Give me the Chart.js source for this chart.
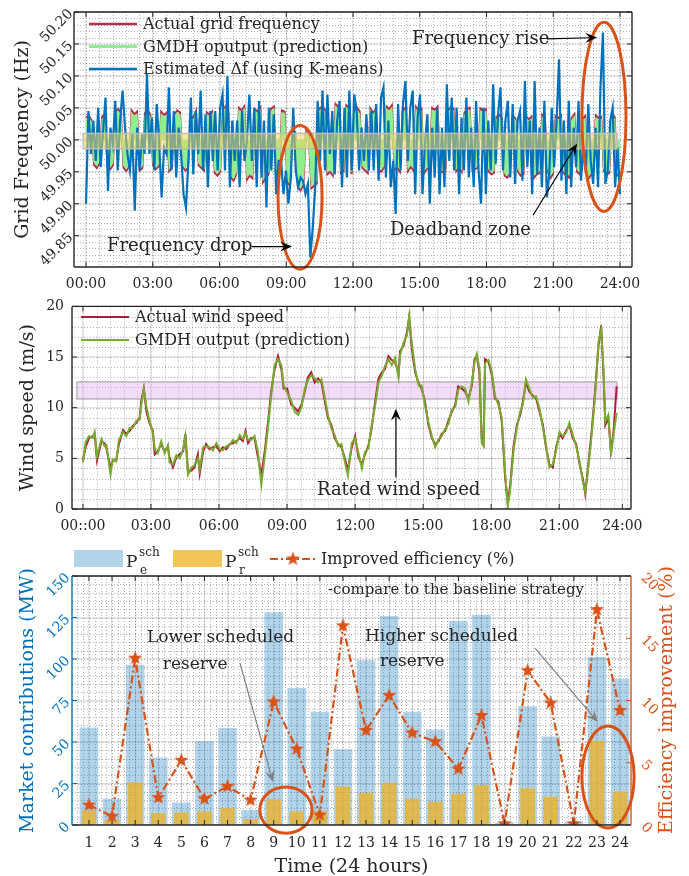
<!DOCTYPE html>
<html>
<head>
<meta charset="utf-8">
<script src="https://cdn.jsdelivr.net/npm/chart.js@4.4.0/dist/chart.umd.min.js"></script>
<style>
  body { margin: 0; background: #fff; width: 689px; height: 876px; position: relative; overflow: hidden; }
  canvas { position: absolute; left: 0; }
</style>
</head>
<body>
<canvas id="freq" width="689" height="290" style="top:0"></canvas>
<canvas id="wind" width="689" height="250" style="top:290px"></canvas>
<canvas id="market" width="689" height="336" style="top:540px"></canvas>
<script>
// ---------- panel 1: grid frequency (deviation from 50 Hz, in mHz), evenly sampled over 24 h
const nominalHz = 50;
const freqHourTicks = [0, 3, 6, 9, 12, 15, 18, 21, 24];
const freqTickValues = [49.85, 49.90, 49.95, 50.00, 50.05, 50.10, 50.15, 50.20];
const freqActual = [
  34,38,31,-39,-44,-37,36,40,
  -42,-46,-40,44,48,42,-44,-49,-42,46,40,44,-48,-44,42,46,39,
  -40,-46,-42,44,39,42,-49,-44,40,46,43,-42,-48,-44,38,34,45,-40,-44,-48,43,39,44,
  -52,-56,-50,48,52,46,-59,-64,-54,50,46,52,-62,-56,-60,48,44,50,-66,-59,-54,49,52,-64,-60,46,44,
  -66,-72,14,12,-74,-79,-70,16,9,-76,-72,-68,
  49,52,48,-54,-50,-56,56,52,-52,-49,54,50,-54,
  46,50,44,-44,-48,-52,49,42,48,-46,-50,-44,52,48,54,-47,-44,-50,46,50,
  -49,-42,-48,51,44,48,-52,-46,-44,50,47,52,-48,-51,-45,46,52,49,-49,-44,
  -50,42,48,50,-48,-46,-44,49,45,48,
  -49,-54,-52,36,39,34,-56,-59,-52,38,34,-50,-56,-54,37,32,36,-59,-54,-52,
  39,34,-48,-60,-54,37,34,38,-52,-56,-59,34,40,-50,-54,33,37,-62,-56,-50,
  38,34,36,-49,-54,-52,39,36,-56,-52
];
const freqGmdh = [
  30,34,28,-35,-40,-33,32,36,
  -38,-42,-36,40,44,38,-40,-45,-38,42,36,40,-44,-40,38,42,35,
  -36,-42,-38,40,35,38,-45,-40,36,42,39,-38,-44,-40,34,30,41,-36,-40,-44,39,35,40,
  -48,-52,-46,44,48,42,-55,-60,-50,46,42,48,-58,-52,-56,44,40,46,-62,-55,-50,45,48,-60,-56,42,40,
  -62,-68,10,8,-70,-75,-66,12,5,-72,-68,-64,
  45,48,44,-50,-46,-52,52,48,-48,-45,50,46,-50,
  42,46,40,-40,-44,-48,45,38,44,-42,-46,-40,48,44,50,-43,-40,-46,42,46,
  -45,-38,-44,47,40,44,-48,-42,-40,46,43,48,-44,-47,-41,42,48,45,-45,-40,
  -46,38,44,46,-44,-42,-40,45,41,44,
  -45,-50,-48,32,35,30,-52,-55,-48,34,30,-46,-52,-50,33,28,32,-55,-50,-48,
  35,30,-44,-56,-50,33,30,34,-48,-52,-55,30,36,-46,-50,29,33,-58,-52,-46,
  34,30,32,-45,-50,-48,35,32,-52,-48
];
const freqEstimated = [
  -100,45,-22,30,-33,50,-43,14,66,-80, 19,-7,61,-48,30,77,19,-22,-48,9,
  -111,19,-48,9,-22,103,-22,35,-48,56, -7,-90,-12,-22,82,-48,45,-59,19,-22,
  -85,-106,-33,66,-54,45,-22,77,-48,40, -74,45,-33,45,-48,50,71,
  -48,100,-74,30,-33,30,-74,45,-33,-2, 71,-33,50,-74,61,-59,30,-106,50,-48,
  40,-85,-33,-33,-85,-48,-100,-59,50,-48, -74,-59,-64,-85,-69,-184,-137,-74,61,-33,
  77,-48,71,-22,45,-54,30,61,-74,50, -59,77,-48,71,
  45,-48,19,-33,40,-48,45,-48,56,-64, 66,82,-59,30,-74,-33,-116,56,-48,56,
  92,-33,50,77,-85,35,71,-85,-7,40, -100,19,-59,50,-85,19,-74,87,-33,66,
  -48,50,-85,35,-48,66,-59,19,-74,61, -48,-100,50,-85,30,-48,
  87,-38,40,82,-48,30,61,-59,56,-69, 30,45,-64,92,-43,30,-85,92,-54,19,
  -74,61,-90,-54,50,-43,30,126,-64,30, -85,61,-74,19,-43,61,-64,-12,-48,56,
  -33,-69,19,-74,82,168,-69,-48,30,50, -74,-12,-85
];

// ---------- panel 2: wind speed (m/s), time in minutes after midnight
const windTime = [
  0,7,16,26,31,37,49,57,62,73, 79,88,95,106,115,123,132,141,150,154,
  161,168,176,185,190,198,207,216,225,229, 238,247,256,265,271,278,287,295,304,309,
  318,326,335,344,353,362,370,379,388,397, 406,415,423,430,437,445,454,463,472,481,
  490,498,507,516,525,531,540,551,560,569, 578,587,595,604,613,622,631,640,648,657,
  666,675,684,692,701,711,720,729,738,746, 755,764,773,782,791,799,808,817,826,835,
  839,848,857,863,870,879,888,896,905,914, 923,932,941,949,958,967,976,985,993,1002,
  1011,1020,1029,1036,1042,1049,1055,1060,1064,1073, 1082,1090,1099,1108,1117,1124,1130,1139,1148,1157,
  1164,1172,1181,1190,1199,1208,1217,1225,1234,1243, 1252,1261,1269,1278,1287,1296,1305,1314,1322,1329,
  1337,1346,1355,1364,1371,1377,1382,1390,1397,1404, 1412
];
const windActual = [
  4.8,6.1,7.0,7.2,7.4,4.8,6.7,6.5,6.0,4.0, 4.8,4.8,6.4,7.8,7.4,7.7,8.2,8.5,9.0,10.6,
  11.9,9.6,8.5,7.7,5.4,5.7,6.4,5.7,6.1,5.1, 4.1,5.1,5.4,5.7,7.4,3.6,3.8,4.1,5.4,3.5,
  5.7,6.4,5.9,6.1,6.2,5.7,6.1,5.9,6.4,6.5, 6.7,7.0,6.7,7.7,6.5,7.0,7.0,5.1,3.4,5.7,
  8.7,11.6,13.8,15.1,13.8,11.9,11.9,10.3,10.0,9.6, 10.3,11.6,13.0,13.5,12.5,12.9,12.5,10.6,9.0,8.3,
  7.0,6.4,6.1,5.1,3.8,6.1,7.2,5.1,4.4,5.4, 6.2,8.0,10.6,12.9,13.5,13.8,15.1,14.7,14.5,13.4,
  15.6,16.1,17.4,18.9,15.8,13.5,12.4,11.9,10.6,8.3, 7.0,6.4,6.7,7.4,7.7,8.7,9.6,10.3,12.1,11.9,
  11.6,10.9,12.2,14.8,15.1,13.5,7.0,6.5,14.8,14.5, 13.2,10.9,10.6,8.7,3.1,0.6,2.2,6.1,8.3,9.3,
  10.6,12.5,11.6,11.2,10.9,9.6,8.3,6.1,4.4,4.1, 6.1,7.4,7.0,7.7,8.3,7.0,6.4,4.4,3.1,1.5,
  4.4,7.7,11.6,16.1,18.1,13.5,8.3,9.0,5.7,7.7, 12.1
];
const windGmdh = [
  4.6,6.6,7.2,7.0,7.6,5.2,6.9,6.2,6.3,3.4, 4.9,4.7,6.8,7.6,7.2,8.0,8.0,8.7,8.8,10.2,
  11.8,10.1,8.7,7.5,5.9,5.5,6.7,5.5,6.3,4.6, 4.4,5.3,5.0,5.9,7.2,3.4,4.1,4.3,5.0,3.9,
  6.1,6.2,6.1,5.8,6.5,5.9,5.8,6.2,6.3,6.8, 6.5,7.3,6.9,7.5,6.8,6.8,7.2,5.6,2.4,5.2,
  8.2,11.2,14.2,14.8,14.2,12.2,11.5,10.7,9.6,9.3, 10.0,11.9,12.7,13.2,12.9,12.5,12.8,11.0,9.3,8.0,
  7.3,6.2,6.4,4.8,3.3,6.5,7.0,5.5,4.0,5.6, 6.0,8.3,10.2,12.5,13.2,14.1,14.8,14.2,14.9,13.0,
  15.2,16.4,17.1,19.0,16.4,13.8,12.2,12.2,10.2,8.6, 7.2,6.1,6.9,7.2,7.9,8.4,9.8,10.1,11.8,12.1,
  11.9,10.6,12.5,14.5,15.3,13.9,6.5,6.2,14.4,14.7, 13.5,11.2,10.3,9.0,3.5,0.3,1.8,5.7,8.0,9.6,
  10.3,12.8,11.9,11.0,11.1,9.9,8.0,6.4,4.1,4.4, 5.8,7.6,7.2,7.5,8.5,7.3,6.2,4.7,2.8,1.7,
  4.0,7.3,11.2,16.5,17.7,14.0,8.6,9.3,5.3,7.4, 9.5
];
const windTicks = [0, 180, 360, 540, 720, 900, 1080, 1260, 1427];
const windTickLabels = ['00::00','03:00','06:00','09:00','12:00','15:00','18:00','21:00','24:00'];

// ---------- panel 3: hourly market contributions (MW) and efficiency improvement (%)
const hours = [1,2,3,4,5,6,7,8,9,10,11,12,13,14,15,16,17,18,19,20,21,22,23,24];
const energySch = [58.5,15.6,96.3,40.5,13.4,50.3,58.3,8.8,127.9,82.4,68,45.5,99,125.7,68,57.3,122.9,126.5,1.4,71.4,53.1,2,101,88];
const reserveSch = [8.4,3,25.5,7,7.4,8,10,3.4,15.4,8,8,22.9,19.2,25.3,15.6,13.8,18.6,23.9,0,21.9,16.8,0,50.5,19.9];
const efficiency = [1.6,0.7,13.4,2.2,5.2,2.1,3.1,2.0,9.9,6.1,0.8,16.0,7.6,10.4,7.4,6.7,4.5,8.8,0.1,12.4,9.8,0.1,17.3,9.2];

// ---------- look
const FONT = '"DejaVu Serif", serif';
const INK = '#262626';
const GRID = 'rgba(0,0,0,0.11)';
const BLUE = '#0072BD';
const ORANGE = '#D95319';
Chart.defaults.font.family = FONT;
Chart.defaults.color = INK;

const pts = (xs, ys) => ys.map((y, i) => ({ x: xs[i], y: y }));
const evenHours = n => Array.from({ length: n }, (_, i) => i * 24 / (n - 1));
const hz = mHz => nominalHz + mHz / 1000;
const fixTicks = list => s => { s.ticks = list.map(v => ({ value: v })); };

function starImage(r, color) {
  const c = document.createElement('canvas');
  const s = Math.ceil(r * 2) + 2;
  c.width = c.height = s;
  const g = c.getContext('2d');
  g.fillStyle = color;
  g.beginPath();
  for (let i = 0; i < 10; i++) {
    const rr = i % 2 ? r * 0.42 : r;
    const a = -Math.PI / 2 + i * Math.PI / 5;
    g.lineTo(s / 2 + rr * Math.cos(a), s / 2 + rr * Math.sin(a));
  }
  g.closePath();
  g.fill();
  return c;
}
const star = starImage(7.5, ORANGE);

function arrow(ctx, x0, y0, x1, y1, color, len) {
  const ang = Math.atan2(y1 - y0, x1 - x0);
  ctx.strokeStyle = color; ctx.fillStyle = color; ctx.lineWidth = 1.2;
  ctx.beginPath();
  ctx.moveTo(x0, y0);
  ctx.lineTo(x1 - Math.cos(ang) * len * 0.6, y1 - Math.sin(ang) * len * 0.6);
  ctx.stroke();
  ctx.save();
  ctx.translate(x1, y1); ctx.rotate(ang);
  ctx.beginPath();
  ctx.moveTo(0, 0); ctx.lineTo(-len, -len * 0.42); ctx.lineTo(-len * 0.6, 0); ctx.lineTo(-len, len * 0.42);
  ctx.closePath(); ctx.fill();
  ctx.restore();
}

function drawItem(chart, it) {
  const ctx = chart.ctx;
  const xs = chart.scales[it.xAxis || 'x'], ys = chart.scales[it.yAxis || 'y'];
  const X = v => xs.getPixelForValue(v), Y = v => ys.getPixelForValue(v);
  if (it.type === 'band') {
    const x0 = X(it.x[0]), x1 = X(it.x[1]), y0 = Y(it.y[1]), y1 = Y(it.y[0]);
    ctx.fillStyle = it.fill; ctx.fillRect(x0, y0, x1 - x0, y1 - y0);
    ctx.strokeStyle = it.stroke; ctx.lineWidth = 1.5; ctx.strokeRect(x0, y0, x1 - x0, y1 - y0);
  } else if (it.type === 'ellipse') {
    const cx = X(it.x), cy = Y(it.y);
    const rx = Math.abs(X(it.x + it.rx) - cx), ry = Math.abs(Y(it.y + it.ry) - cy);
    ctx.strokeStyle = it.color; ctx.lineWidth = 3;
    ctx.beginPath(); ctx.ellipse(cx, cy, rx, ry, 0, 0, 2 * Math.PI); ctx.stroke();
  } else if (it.type === 'text') {
    ctx.font = (it.size || 18) + 'px ' + FONT;
    ctx.fillStyle = it.color || INK;
    ctx.textAlign = 'left'; ctx.textBaseline = 'middle';
    ctx.fillText(it.text, X(it.x), Y(it.y));
  } else if (it.type === 'arrow') {
    arrow(ctx, X(it.from[0]), Y(it.from[1]), X(it.to[0]), Y(it.to[1]), it.color || '#000', it.head || 12);
  }
}

function drawFrame(chart, f) {
  const ctx = chart.ctx, a = chart.chartArea, L = 5;
  ctx.lineWidth = 1;
  f.ticks.forEach(t => {
    const s = chart.scales[t.scale];
    ctx.strokeStyle = t.color;
    s.ticks.forEach(tk => {
      const p = s.getPixelForValue(tk.value);
      t.sides.forEach(side => {
        ctx.beginPath();
        if (side === 'bottom') { ctx.moveTo(p, a.bottom); ctx.lineTo(p, a.bottom - L); }
        if (side === 'top') { ctx.moveTo(p, a.top); ctx.lineTo(p, a.top + L); }
        if (side === 'left') { ctx.moveTo(a.left, p); ctx.lineTo(a.left + L, p); }
        if (side === 'right') { ctx.moveTo(a.right, p); ctx.lineTo(a.right - L, p); }
        ctx.stroke();
      });
    });
  });
  ctx.lineWidth = 1.4;
  const edge = (c, x0, y0, x1, y1) => { ctx.strokeStyle = c; ctx.beginPath(); ctx.moveTo(x0, y0); ctx.lineTo(x1, y1); ctx.stroke(); };
  edge(f.top, a.left, a.top, a.right, a.top);
  edge(f.bottom, a.left, a.bottom, a.right, a.bottom);
  edge(f.left, a.left, a.top, a.left, a.bottom);
  edge(f.right, a.right, a.top, a.right, a.bottom);
}

const deco = {
  id: 'deco',
  beforeDatasetsDraw(chart, args, o) {
    const ctx = chart.ctx, a = chart.chartArea;
    ctx.save();
    ctx.beginPath(); ctx.rect(a.left, a.top, a.right - a.left, a.bottom - a.top); ctx.clip();
    ctx.lineWidth = 1; ctx.setLineDash([1, 2]); ctx.strokeStyle = 'rgba(0,0,0,0.3)';
    (o.minor || []).forEach(m => {
      const s = chart.scales[m.scale];
      const n = Math.floor((s.max - m.from) / m.step + 1e-6);
      for (let k = 0; k <= n; k++) {
        const p = Math.round(s.getPixelForValue(m.from + k * m.step)) + 0.5;
        ctx.beginPath();
        if (s.isHorizontal()) { ctx.moveTo(p, a.top); ctx.lineTo(p, a.bottom); }
        else { ctx.moveTo(a.left, p); ctx.lineTo(a.right, p); }
        ctx.stroke();
      }
    });
    ctx.setLineDash([]);
    (o.under || []).forEach(it => drawItem(chart, it));
    ctx.restore();
  },
  afterDatasetsDraw(chart, args, o) {
    const ctx = chart.ctx;
    ctx.save();
    (o.over || []).forEach(it => drawItem(chart, it));
    drawFrame(chart, o.frame);
    if (o.legend) o.legend(ctx);
    ctx.restore();
  }
};

function lineLegend(ctx, x, y, dy, items) {
  ctx.font = '16px ' + FONT;
  ctx.textAlign = 'left'; ctx.textBaseline = 'middle';
  items.forEach((it, i) => {
    const yy = y + i * dy;
    ctx.strokeStyle = it.color; ctx.lineWidth = it.width;
    ctx.beginPath(); ctx.moveTo(x, yy); ctx.lineTo(x + 48, yy); ctx.stroke();
    ctx.fillStyle = INK;
    ctx.fillText(it.label, x + 54, yy + 1);
  });
}

const blackFrame = {
  top: INK, bottom: INK, left: INK, right: INK,
  ticks: [{ scale: 'x', sides: ['bottom', 'top'], color: INK }, { scale: 'y', sides: ['left', 'right'], color: INK }]
};
const tickFont = { family: FONT, size: 14 };
const titleFont = { family: FONT, size: 19 };
const base = {
  responsive: false, animation: false, devicePixelRatio: 1,
  elements: { point: { radius: 0 }, line: { tension: 0 } },
};

// ---------- chart 1
new Chart(document.getElementById('freq'), {
  type: 'line',
  data: {
    datasets: [
      { label: 'Estimated Δf (using K-means)', data: pts(evenHours(freqEstimated.length), freqEstimated.map(hz)),
        borderColor: BLUE, borderWidth: 2.2, order: 0 },
      { label: 'GMDH oputput (prediction)', data: pts(evenHours(freqGmdh.length), freqGmdh.map(hz)),
        borderColor: '#90EE90', backgroundColor: '#90EE90', fill: { value: nominalHz }, borderWidth: 1.2, order: 1 },
      { label: 'Actual grid frequency', data: pts(evenHours(freqActual.length), freqActual.map(hz)),
        borderColor: '#B0324F', borderWidth: 2, order: 2 }
    ]
  },
  options: Object.assign({}, base, {
    layout: { padding: { left: 0, right: 57, top: 12, bottom: 0 } },
    plugins: {
      legend: { display: false }, tooltip: { enabled: false },
      deco: {
        minor: [{ scale: 'x', from: 0, step: 0.6 }, { scale: 'y', from: 49.81, step: 0.01 }],
        over: [
          { type: 'band', x: [-0.13, 23.87], y: [49.986, 50.010], fill: 'rgba(240,212,100,0.55)', stroke: 'rgba(190,190,190,0.95)' },
          { type: 'ellipse', x: 9.62, y: 49.910, rx: 0.99, ry: 0.1125, color: ORANGE },
          { type: 'ellipse', x: 23.28, y: 50.036, rx: 0.99, ry: 0.148, color: ORANGE },
          { type: 'text', x: 0.94, y: 49.833, text: 'Frequency drop' },
          { type: 'arrow', from: [7.46, 49.833], to: [9.26, 49.833] },
          { type: 'text', x: 14.65, y: 50.157, text: 'Frequency rise' },
          { type: 'arrow', from: [20.72, 50.158], to: [22.97, 50.160] },
          { type: 'text', x: 13.66, y: 49.858, text: 'Deadband zone' },
          { type: 'arrow', from: [20.09, 49.882], to: [22.07, 49.994] }
        ],
        frame: blackFrame,
        legend: ctx => lineLegend(ctx, 89, 24, 22.5, [
          { label: 'Actual grid frequency', color: '#B0324F', width: 2.5 },
          { label: 'GMDH oputput (prediction)', color: '#90EE90', width: 3 },
          { label: 'Estimated Δf (using K-means)', color: BLUE, width: 2.5 }
        ])
      }
    },
    scales: {
      x: {
        type: 'linear', min: -0.54, max: 24.54,
        afterBuildTicks: fixTicks(freqHourTicks), afterFit: s => { s.height = 23; },
        ticks: { padding: 9, maxRotation: 0, autoSkip: false, font: tickFont, color: INK,
          callback: v => String(v).padStart(2, '0') + ':00' },
        grid: { color: GRID, lineWidth: 1.2, drawTicks: false }, border: { display: false }
      },
      y: {
        min: 49.801, max: 50.2,
        afterBuildTicks: fixTicks(freqTickValues), afterFit: s => { s.width = 74; },
        ticks: { padding: 3, minRotation: 45, font: tickFont, color: INK, callback: v => v.toFixed(2) },
        title: { display: true, text: 'Grid Frequency (Hz)', font: titleFont, color: INK, padding: { top: 12, bottom: 0 } },
        grid: { color: GRID, lineWidth: 1.2, drawTicks: false }, border: { display: false }
      }
    }
  }),
  plugins: [deco]
});

// ---------- chart 2
new Chart(document.getElementById('wind'), {
  type: 'line',
  data: {
    datasets: [
      { label: 'GMDH output (prediction)', data: pts(windTime, windGmdh), borderColor: '#77AC30', borderWidth: 2, order: 0 },
      { label: 'Actual wind speed', data: pts(windTime, windActual), borderColor: '#B5163F', borderWidth: 2, order: 1 }
    ]
  },
  options: Object.assign({}, base, {
    layout: { padding: { left: 0, right: 58, top: 13, bottom: 0 } },
    plugins: {
      legend: { display: false }, tooltip: { enabled: false },
      deco: {
        minor: [{ scale: 'x', from: 0, step: 36 }, { scale: 'y', from: 1, step: 1 }],
        under: [
          { type: 'band', x: [-16, 1413], y: [10.86, 12.54], fill: 'rgba(228,170,245,0.4)', stroke: 'rgba(170,170,170,0.8)' }
        ],
        over: [
          { type: 'text', x: 619, y: 1.85, text: 'Rated wind speed' },
          { type: 'arrow', from: [828, 3.1], to: [828, 9.9] }
        ],
        frame: blackFrame,
        legend: ctx => lineLegend(ctx, 81, 27, 23, [
          { label: 'Actual wind speed', color: '#B5163F', width: 2 },
          { label: 'GMDH output (prediction)', color: '#77AC30', width: 2 }
        ])
      }
    },
    scales: {
      x: {
        type: 'linear', min: -29, max: 1450,
        afterBuildTicks: fixTicks(windTicks), afterFit: s => { s.height = 31; },
        ticks: { padding: 9, maxRotation: 0, autoSkip: false, font: tickFont, color: INK,
          callback: (v, i) => windTickLabels[i] },
        grid: { color: GRID, lineWidth: 1.2, drawTicks: false }, border: { display: false }
      },
      y: {
        min: 0, max: 20, ticks: { stepSize: 5, padding: 8, font: tickFont, color: INK },
        afterFit: s => { s.width = 72; },
        title: { display: true, text: 'Wind speed (m/s)', font: titleFont, color: INK, padding: { top: 17, bottom: 0 } },
        grid: { color: GRID, lineWidth: 1.2, drawTicks: false }, border: { display: false }
      }
    }
  }),
  plugins: [deco]
});

// ---------- chart 3
function marketLegend(ctx) {
  ctx.textAlign = 'left'; ctx.textBaseline = 'alphabetic'; ctx.fillStyle = INK;
  const sym = (x, sub) => {
    ctx.font = '17px ' + FONT; ctx.fillText('P', x, 27);
    ctx.font = '12px ' + FONT; ctx.fillText('sch', x + 13, 16); ctx.fillText(sub, x + 14, 34);
  };
  ctx.fillStyle = 'rgba(0,114,189,0.3)'; ctx.fillRect(74, 10, 49, 17);
  ctx.fillStyle = INK; sym(126, 'e');
  ctx.fillStyle = 'rgba(237,177,32,0.75)'; ctx.fillRect(173, 10, 49, 17);
  ctx.fillStyle = INK; sym(225, 'r');
  ctx.strokeStyle = ORANGE; ctx.lineWidth = 2.2; ctx.setLineDash([8, 3, 2, 3]);
  ctx.beginPath(); ctx.moveTo(270, 19); ctx.lineTo(316, 19); ctx.stroke(); ctx.setLineDash([]);
  ctx.drawImage(star, 293 - star.width / 2, 19 - star.height / 2);
  ctx.font = '16px ' + FONT; ctx.fillStyle = INK; ctx.textBaseline = 'middle';
  ctx.fillText('Improved efficiency (%)', 321, 20);
  // right axis title, reading bottom to top
  ctx.save();
  ctx.translate(667, 160); ctx.rotate(-Math.PI / 2);
  ctx.font = '19px ' + FONT; ctx.fillStyle = ORANGE; ctx.textAlign = 'center';
  ctx.fillText('Efficiency improvement (%)', 0, 0);
  ctx.restore();
}

new Chart(document.getElementById('market'), {
  type: 'bar',
  data: {
    datasets: [
      { type: 'line', label: 'Improved efficiency (%)', data: pts(hours, efficiency), yAxisID: 'y2',
        borderColor: ORANGE, borderWidth: 2.2, borderDash: [8, 3, 2, 3], pointStyle: star, pointRadius: 7, order: 0 },
      { label: 'P_r^sch', data: pts(hours, reserveSch), backgroundColor: 'rgba(237,177,32,0.75)', barThickness: 14, grouped: false, order: 1 },
      { label: 'P_e^sch', data: pts(hours, energySch), backgroundColor: 'rgba(0,114,189,0.3)', barThickness: 18, grouped: false, order: 2 }
    ]
  },
  options: Object.assign({}, base, {
    layout: { padding: { left: 0, right: 0, top: 36, bottom: 0 } },
    plugins: {
      legend: { display: false }, tooltip: { enabled: false },
      deco: {
        minor: [{ scale: 'x', from: 0.5, step: 0.25 }, { scale: 'y', from: 5, step: 5 }],
        over: [
          { type: 'text', x: 11.35, y: 141.6, text: '-compare to the baseline strategy', size: 15 },
          { type: 'text', x: 3.51, y: 112.7, text: 'Lower scheduled', size: 17 },
          { type: 'text', x: 4.2, y: 96.4, text: 'reserve', size: 17 },
          { type: 'arrow', from: [7.54, 97.6], to: [8.97, 25.9], color: '#808080' },
          { type: 'ellipse', x: 9.53, y: 9, rx: 1.13, ry: 13.9, color: ORANGE },
          { type: 'text', x: 12.95, y: 113.3, text: 'Higher scheduled', size: 17 },
          { type: 'text', x: 13.6, y: 98.2, text: 'reserve', size: 17 },
          { type: 'arrow', from: [20.32, 106.6], to: [23.04, 62.0], color: '#808080' },
          { type: 'ellipse', x: 23.48, y: 28.9, rx: 1.13, ry: 30.7, color: ORANGE }
        ],
        frame: {
          top: INK, bottom: INK, left: BLUE, right: ORANGE,
          ticks: [{ scale: 'x', sides: ['bottom', 'top'], color: INK }, { scale: 'y', sides: ['left'], color: BLUE }, { scale: 'y2', sides: ['right'], color: ORANGE }]
        },
        legend: marketLegend
      }
    },
    scales: {
      x: {
        type: 'linear', min: 0.264, max: 24.476, offset: false,
        afterBuildTicks: fixTicks(hours), afterFit: s => { s.height = 51; },
        ticks: { padding: 10, maxRotation: 0, autoSkip: false, font: tickFont, color: INK },
        title: { display: true, text: 'Time (24 hours)', font: titleFont, color: INK, padding: { top: 0, bottom: -2 } },
        grid: { color: GRID, lineWidth: 1.2, drawTicks: false, offset: false }, border: { display: false }
      },
      y: {
        min: 0, max: 150, ticks: { stepSize: 25, padding: 4, minRotation: 45, font: tickFont, color: BLUE },
        afterFit: s => { s.width = 72; },
        title: { display: true, text: 'Market contributions (MW)', font: titleFont, color: BLUE, padding: { top: 17, bottom: 0 } },
        grid: { color: GRID, lineWidth: 1.2, drawTicks: false }, border: { display: false }
      },
      y2: {
        position: 'right', min: 0, max: 20, ticks: { stepSize: 5, padding: 4, minRotation: -45, font: tickFont, color: ORANGE },
        afterFit: s => { s.width = 58; },
        grid: { display: false }, border: { display: false }
      }
    }
  }),
  plugins: [deco]
});
</script>
</body>
</html>
